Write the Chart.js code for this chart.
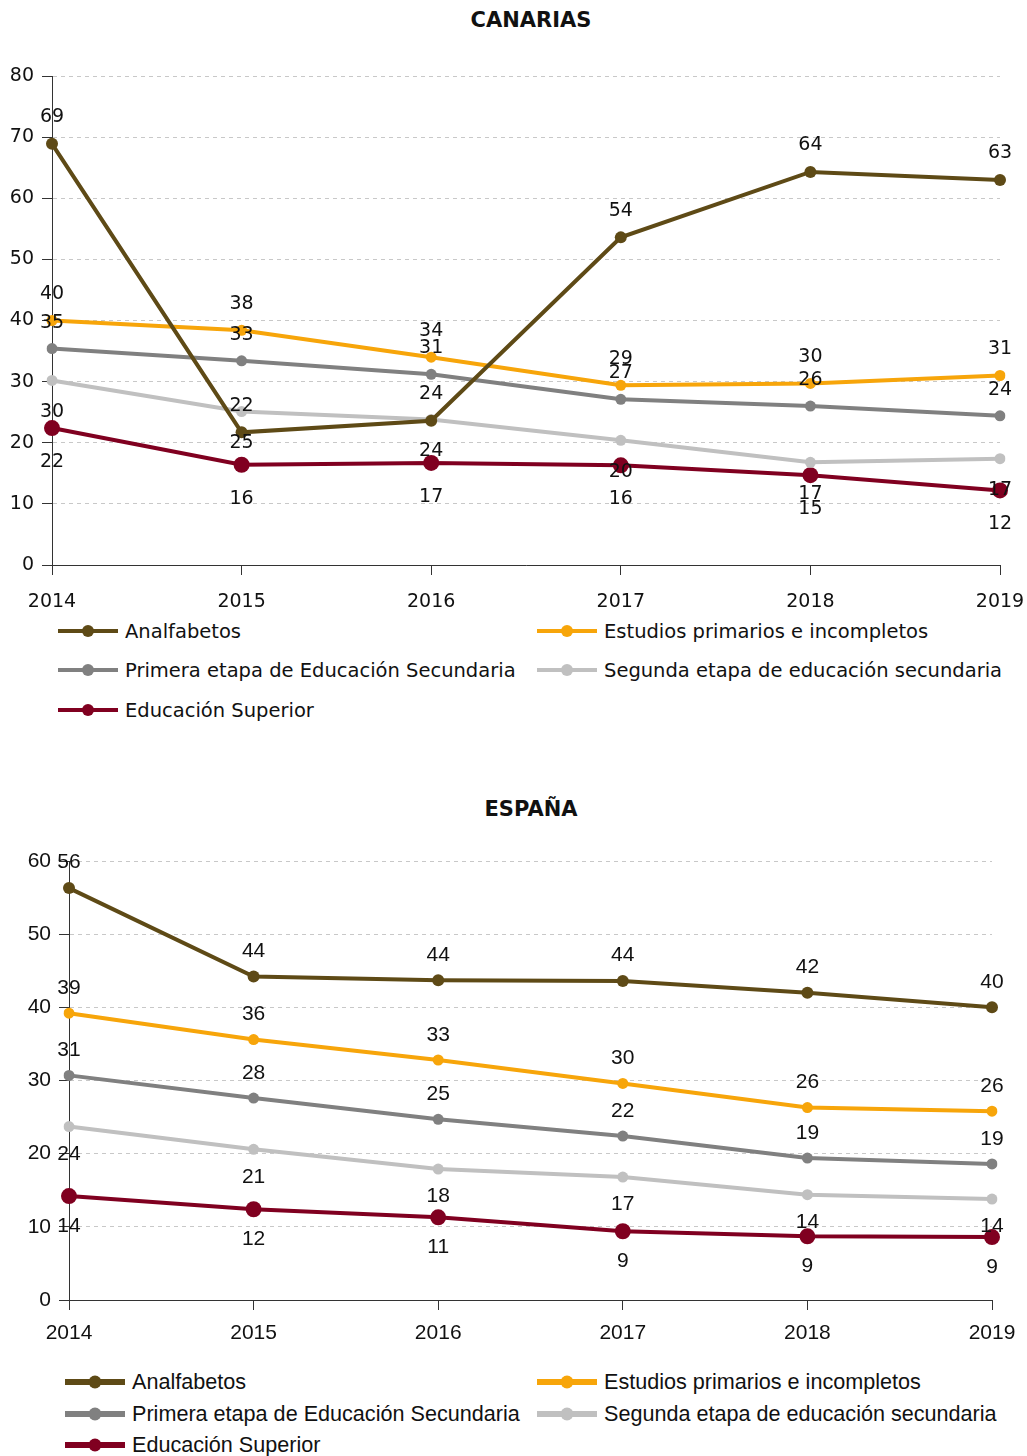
<!DOCTYPE html>
<html>
<head>
<meta charset="utf-8">
<script src="https://cdn.jsdelivr.net/npm/chart.js@4.4.1/dist/chart.umd.min.js"></script>
<style>
  body { margin: 0; background: #fff; width: 1027px; height: 1456px; position: relative; overflow: hidden; }
  .box { position: absolute; left: 0; width: 1027px; }
  .title { position: absolute; left: 431px; width: 200px; text-align: center; font: bold 21px "DejaVu Sans"; color: #111; line-height: 26px; }
  .item { position: absolute; display: flex; align-items: center; white-space: nowrap; height: 26px; color: #111; }
  .mark { position: relative; width: 60px; height: 26px; margin-right: 7px; flex: none; }
  .mark .ln { position: absolute; left: 0; right: 0; top: 50%; transform: translateY(-50%); }
  .mark .dot { position: absolute; left: 50%; top: 50%; border-radius: 50%; transform: translate(-50%, -50%); }
  #legTop .item { font: 19.5px "DejaVu Sans"; }
  #legBot .item { font: 21.6px "Liberation Sans"; }
</style>
</head>
<body>
<div class="title" style="top:7px">CANARIAS</div>
<div class="box" style="top:0;height:615px"><canvas id="canarias"></canvas></div>
<div class="box" id="legTop" style="top:0"></div>
<div class="title" style="top:796px">ESPAÑA</div>
<div class="box" style="top:780px;height:570px"><canvas id="espana"></canvas></div>
<div class="box" id="legBot" style="top:0"></div>

<script>
// chart data
const years = ['2014', '2015', '2016', '2017', '2018', '2019'];
const seriesNames = [
  'Analfabetos',
  'Estudios primarios e incompletos',
  'Primera etapa de Educación Secundaria',
  'Segunda etapa de educación secundaria',
  'Educación Superior'
];

const canAnalfabetos = [68.9, 21.7, 23.6, 53.6, 64.3, 63.0];
const canPrimarios   = [40.0, 38.4, 34.0, 29.4, 29.7, 31.0];
const canPrimeraSec  = [35.4, 33.4, 31.2, 27.1, 26.0, 24.4];
const canSegundaSec  = [30.2, 25.1, 23.8, 20.4, 16.8, 17.4];
const canSuperior    = [22.4, 16.4, 16.7, 16.3, 14.7, 12.2];

const espAnalfabetos = [56.3, 44.2, 43.7, 43.6, 42.0, 40.0];
const espPrimarios   = [39.2, 35.6, 32.8, 29.6, 26.3, 25.8];
const espPrimeraSec  = [30.7, 27.6, 24.7, 22.4, 19.4, 18.6];
const espSegundaSec  = [23.7, 20.6, 17.9, 16.8, 14.4, 13.8];
const espSuperior    = [14.2, 12.4, 11.3, 9.4, 8.7, 8.6];

const canTicks = [0, 80, 10];   // min, max, step
const espTicks = [0, 60, 10];

// styles
const colors = ['#5e4a16', '#f7a50a', '#808080', '#c0c0c0', '#800020'];
const radii = [6, 5.5, 5.5, 5.5, 8];

// value labels above (first three series) or below (last two) each point
const valueLabels = {
  id: 'valueLabels',
  afterDatasetsDraw(chart, args, opts) {
    const ctx = chart.ctx;
    ctx.save();
    ctx.font = opts.font;
    ctx.fillStyle = '#111';
    ctx.textAlign = 'center';
    ctx.textBaseline = 'middle';
    chart.data.datasets.forEach((ds, i) => {
      const meta = chart.getDatasetMeta(i);
      meta.data.forEach((pt, j) => {
        const y = i >= 3 ? pt.y + radii[i] + opts.below : pt.y - radii[i] - opts.above;
        ctx.fillText(Math.round(ds.data[j]), pt.x, y);
      });
    });
    ctx.restore();
  }
};

function makeChart(id, series, ticks, o) {
  const font = { family: o.family, size: o.size };
  new Chart(document.getElementById(id), {
    type: 'line',
    data: {
      labels: years,
      datasets: series.map((d, i) => ({
        label: seriesNames[i],
        data: d,
        borderColor: colors[i],
        backgroundColor: colors[i],
        pointBackgroundColor: colors[i],
        pointBorderWidth: 0,
        pointRadius: radii[i],
        pointHoverRadius: radii[i],
        borderWidth: 4,
        tension: 0
      }))
    },
    options: {
      responsive: true,
      maintainAspectRatio: false,
      animation: false,
      events: [],
      layout: { padding: { left: 0, right: o.right, top: o.top, bottom: 0 } },
      plugins: {
        legend: { display: false },
        tooltip: { enabled: false },
        title: { display: false },
        valueLabels: { font: o.size + 'px "' + o.family + '"', above: o.above, below: o.below }
      },
      scales: {
        x: {
          offset: false,
          afterFit: s => { s.height = 50; s.paddingLeft = 0; s.paddingRight = 0; },
          grid: { display: true, drawOnChartArea: false, tickLength: 10, tickColor: '#333' },
          border: { color: '#333', width: 1 },
          ticks: { color: '#111', font: font, padding: o.xPad, maxRotation: 0 }
        },
        y: {
          min: ticks[0],
          max: ticks[1],
          afterFit: s => { s.width = o.left; s.paddingTop = 0; },
          grid: { color: '#c8c8c8', tickLength: 10, tickColor: '#333' },
          border: { color: '#333', width: 1, dash: [4, 4] },
          ticks: { stepSize: ticks[2], color: '#111', font: font, padding: 8 }
        }
      }
    },
    plugins: [valueLabels]
  });
}

makeChart('canarias',
  [canAnalfabetos, canPrimarios, canPrimeraSec, canSegundaSec, canSuperior], canTicks,
  { family: 'DejaVu Sans', size: 19, left: 52, right: 27, top: 76, xPad: 16, above: 20.5, below: 26 });

makeChart('espana',
  [espAnalfabetos, espPrimarios, espPrimeraSec, espSegundaSec, espSuperior], espTicks,
  { family: 'Liberation Sans', size: 21, left: 69, right: 35, top: 81, xPad: 11, above: 19.5, below: 22 });

// html legends in two columns
function makeLegend(id, rows, cols, lineH, dotD) {
  const box = document.getElementById(id);
  seriesNames.forEach((name, i) => {
    const item = document.createElement('div');
    item.className = 'item';
    item.style.left = cols[i % 2] + 'px';
    item.style.top = (rows[Math.floor(i / 2)] - 13) + 'px';
    item.innerHTML =
      '<span class="mark"><span class="ln" style="height:' + lineH + 'px;background:' + colors[i] + '"></span>' +
      '<span class="dot" style="width:' + dotD + 'px;height:' + dotD + 'px;background:' + colors[i] + '"></span></span>' +
      '<span>' + name + '</span>';
    box.appendChild(item);
  });
}

makeLegend('legTop', [631, 670, 710], [58, 537], 4, 12);
makeLegend('legBot', [1382, 1414, 1445], [65, 537], 6, 13);
</script>
</body>
</html>
